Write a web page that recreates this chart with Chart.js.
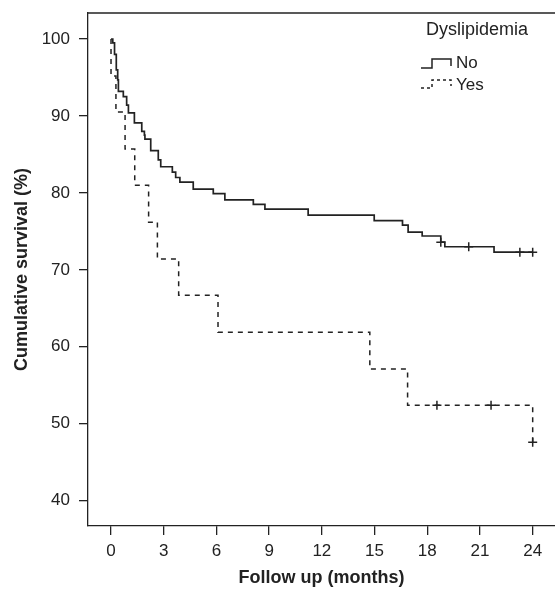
<!DOCTYPE html>
<html>
<head>
<meta charset="utf-8">
<script src="https://cdn.jsdelivr.net/npm/chart.js@4.4.0/dist/chart.umd.min.js"></script>
<style>
  html, body { margin: 0; padding: 0; background: #fff; }
  #wrap { width: 555px; height: 589px; position: relative; }
</style>
</head>
<body>
<div id="wrap"><canvas id="km"></canvas></div>
<script>
// Kaplan-Meier: 脂質異常症なし / あり
const noTimes = [0, 0.1, 0.2, 0.3, 0.38, 0.42, 0.7, 0.89, 0.99, 1.33, 1.75, 1.9, 1.93, 2.26, 2.69, 2.83, 3.49, 3.68, 3.92, 4.68, 5.82, 6.48, 8.1, 8.76, 11.22, 14.98, 16.59, 16.91, 17.71, 18.77, 19.0, 21.8, 24];
const noSurv  = [100, 99.5, 98.0, 96.0, 94.7, 93.2, 92.5, 91.4, 90.4, 89.1, 88.0, 87.5, 87.0, 85.5, 84.3, 83.4, 82.7, 82.0, 81.4, 80.5, 79.9, 79.1, 78.5, 77.9, 77.1, 76.4, 75.8, 74.9, 74.4, 73.6, 73.0, 72.3, 72.3];
const noCensorTimes = [18.77, 20.36, 23.27, 24.0];
const noCensorSurv  = [73.6, 73.0, 72.3, 72.3];

const yesTimes = [0, 0, 0.28, 0.8, 1.35, 2.14, 2.64, 3.85, 6.09, 14.73, 16.88, 24];
const yesSurv  = [100, 95.2, 90.5, 85.7, 81.0, 76.2, 71.4, 66.7, 61.9, 57.1, 52.4, 47.6];
const yesCensorTimes = [18.55, 21.63, 24];
const yesCensorSurv  = [52.4, 52.4, 47.6];

const xTicks = [0, 3, 6, 9, 12, 15, 18, 21, 24];
const yTicks = [40, 50, 60, 70, 80, 90, 100];
const groupLabels = ["No", "Yes"];
const legendTitle = "Dyslipidemia";

const ink = "#222";
const fontFam = "'Liberation Sans', Arial, sans-serif";

function pts(xs, ys) {
  return xs.map((x, i) => ({ x: x, y: ys[i] }));
}

// 枠の上線と凡例
const boxLegend = {
  id: "boxLegend",
  afterDraw(chart) {
    const ctx = chart.ctx;
    const a = chart.chartArea;
    ctx.save();
    ctx.strokeStyle = ink;
    ctx.lineWidth = 1.3;
    ctx.beginPath();
    ctx.moveTo(a.left, a.top);
    ctx.lineTo(a.right, a.top);
    ctx.stroke();

    ctx.fillStyle = ink;
    ctx.font = "18px " + fontFam;
    ctx.textAlign = "center";
    ctx.textBaseline = "middle";
    ctx.fillText(legendTitle, a.right - 78, a.top + 17);

    const r = a.right;
    const drawSym = (low, high, dash) => {
      ctx.setLineDash(dash);
      ctx.lineWidth = 1.5;
      ctx.beginPath();
      ctx.moveTo(r - 134, a.top + low);
      ctx.lineTo(r - 123, a.top + low);
      ctx.lineTo(r - 123, a.top + high);
      ctx.lineTo(r - 104, a.top + high);
      ctx.lineTo(r - 104, a.top + low - 2);
      ctx.stroke();
    };
    drawSym(55, 46, []);
    drawSym(75, 67, [3, 3]);
    ctx.setLineDash([]);
    ctx.font = "17px " + fontFam;
    ctx.textAlign = "left";
    ctx.fillText(groupLabels[0], r - 99, a.top + 50);
    ctx.fillText(groupLabels[1], r - 99, a.top + 72);
    ctx.restore();
  }
};

new Chart(document.getElementById("km"), {
  type: "line",
  data: {
    datasets: [
      {
        label: groupLabels[0],
        data: pts(noTimes, noSurv),
        stepped: true,
        borderColor: ink,
        borderWidth: 1.7,
        pointRadius: 0,
        fill: false
      },
      {
        label: groupLabels[1],
        data: pts(yesTimes, yesSurv),
        stepped: true,
        borderColor: ink,
        borderWidth: 1.5,
        borderDash: [5, 5],
        pointRadius: 0,
        fill: false
      },
      {
        label: "censor no",
        data: pts(noCensorTimes, noCensorSurv),
        showLine: false,
        pointStyle: "cross",
        pointRadius: 4.5,
        borderColor: ink,
        borderWidth: 1.5
      },
      {
        label: "censor yes",
        data: pts(yesCensorTimes, yesCensorSurv),
        showLine: false,
        pointStyle: "cross",
        pointRadius: 4.5,
        borderColor: ink,
        borderWidth: 1.5
      }
    ]
  },
  options: {
    responsive: true,
    maintainAspectRatio: false,
    animation: false,
    layout: { autoPadding: false, padding: { top: 13, right: 0, left: 0, bottom: 0 } },
    plugins: {
      legend: { display: false },
      tooltip: { enabled: false }
    },
    scales: {
      x: {
        type: "linear",
        min: -1.31,
        max: 25.27,
        afterFit: s => { s.height = 63; s.paddingLeft = 0; s.paddingRight = 0; },
        afterBuildTicks: s => { s.ticks = xTicks.map(v => ({ value: v })); },
        grid: { display: true, drawOnChartArea: false, drawTicks: true, tickLength: 9, color: ink, lineWidth: 1.3 },
        border: { display: true, color: ink, width: 1.3 },
        ticks: { color: ink, font: { family: fontFam, size: 17 }, padding: 6, maxRotation: 0 },
        title: { display: true, text: "Follow up (months)", color: ink, font: { family: fontFam, size: 18, weight: "bold" }, padding: { top: 0, bottom: 0 } }
      },
      y: {
        type: "linear",
        min: 36.71,
        max: 103.38,
        afterFit: s => { s.width = 88; s.paddingTop = 0; s.paddingBottom = 0; },
        afterBuildTicks: s => { s.ticks = yTicks.map(v => ({ value: v })); },
        grid: { display: true, drawOnChartArea: false, drawTicks: true, tickLength: 9, color: ink, lineWidth: 1.3 },
        border: { display: true, color: ink, width: 1.3 },
        ticks: { color: ink, font: { family: fontFam, size: 17 }, padding: 9 },
        title: { display: true, text: "Cumulative survival (%)", color: ink, font: { family: fontFam, size: 18, weight: "bold" }, padding: { top: 11, bottom: 0 } }
      }
    }
  },
  plugins: [boxLegend]
});
</script>
</body>
</html>
